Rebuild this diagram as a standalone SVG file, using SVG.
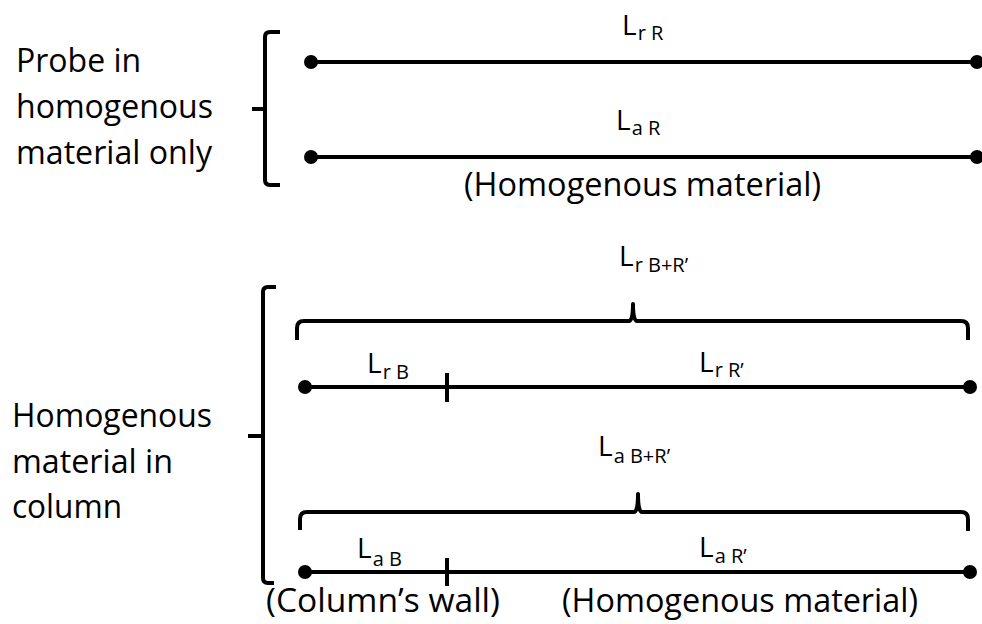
<svg xmlns="http://www.w3.org/2000/svg" width="982" height="624" viewBox="0 0 982 624">
<style>
text{font-family:"Open Sans","Liberation Sans",sans-serif;fill:#000}
.t{font-size:32px}
.L{font-size:28px}
.s{font-size:20px}
.ln{stroke:#000;stroke-width:4;fill:none}
.br{stroke:#000;stroke-width:4;fill:none;stroke-linejoin:round}
.bc{stroke:#000;stroke-width:4;fill:none;stroke-linejoin:round}
.dot{fill:#000}
</style>
<g id="label-probe">
<text class="t" x="16" y="72">Probe in</text>
<text class="t" x="16" y="118" textLength="197" lengthAdjust="spacingAndGlyphs">homogenous</text>
<text class="t" x="16" y="164" textLength="196" lengthAdjust="spacingAndGlyphs">material only</text>
</g>
<g id="label-column">
<text class="t" x="12" y="427" textLength="200" lengthAdjust="spacingAndGlyphs">Homogenous</text>
<text class="t" x="12" y="473" textLength="161" lengthAdjust="spacingAndGlyphs">material in</text>
<text class="t" x="12" y="518" textLength="110" lengthAdjust="spacingAndGlyphs">column</text>
</g>
<g id="connectors">
<path class="br" d="M280,32 H270 Q265,32 265,37 V180 Q265,185 270,185 H280 M252,109 H265"/>
<path class="br" d="M276,287 H268 Q263,287 263,292 V578 Q263,583 268,583 H274 M248,436 H263"/>
<line class="ln" x1="311" y1="62" x2="977" y2="62"/>
<line class="ln" x1="311" y1="157" x2="977" y2="157"/>
<path class="bc" d="M297,340 V328 Q297,321 304,321 H629 Q633,321 633,304 Q633,321 637,321 H961 Q968,321 968,328 V340"/>
<line class="ln" x1="305" y1="387" x2="970" y2="387"/>
<line class="ln" x1="447" y1="373" x2="447" y2="402"/>
<path class="bc" d="M300,530 V519 Q300,512 307,512 H634 Q638,512 638,494 Q638,512 642,512 H961 Q968,512 968,519 V531"/>
<line class="ln" x1="305" y1="572" x2="970" y2="572"/>
<line class="ln" x1="447" y1="558" x2="447" y2="586"/>
</g>
<g id="dots">
<circle class="dot" cx="311" cy="62" r="7"/>
<circle class="dot" cx="977" cy="62" r="7"/>
<circle class="dot" cx="311" cy="157" r="7"/>
<circle class="dot" cx="977" cy="157" r="7"/>
<circle class="dot" cx="305" cy="387" r="7"/>
<circle class="dot" cx="970" cy="387" r="7"/>
<circle class="dot" cx="305" cy="572" r="7"/>
<circle class="dot" cx="970" cy="572" r="7"/>
</g>
<g id="labels">
<text class="L" x="622" y="35">L<tspan class="s" dx="1" dy="5">r R</tspan></text>
<text class="L" x="616" y="130">L<tspan class="s" dx="1" dy="5">a R</tspan></text>
<text class="t" x="464" y="196" textLength="357" lengthAdjust="spacingAndGlyphs">(Homogenous material)</text>
<text class="L" x="619" y="266">L<tspan class="s" dx="1" dy="6">r B+R’</tspan></text>
<text class="L" x="367" y="373">L<tspan class="s" dx="1" dy="6">r B</tspan></text>
<text class="L" x="699" y="372">L<tspan class="s" dx="1" dy="5">r R’</tspan></text>
<text class="L" x="598" y="456">L<tspan class="s" dx="1" dy="7">a B+R’</tspan></text>
<text class="L" x="357" y="558">L<tspan class="s" dx="1" dy="8">a B</tspan></text>
<text class="L" x="699" y="557">L<tspan class="s" dx="1" dy="6">a R’</tspan></text>
<text class="t" x="266" y="612" textLength="234" lengthAdjust="spacingAndGlyphs">(Column’s wall)</text>
<text class="t" x="562" y="612" textLength="356" lengthAdjust="spacingAndGlyphs">(Homogenous material)</text>
</g>
</svg>
